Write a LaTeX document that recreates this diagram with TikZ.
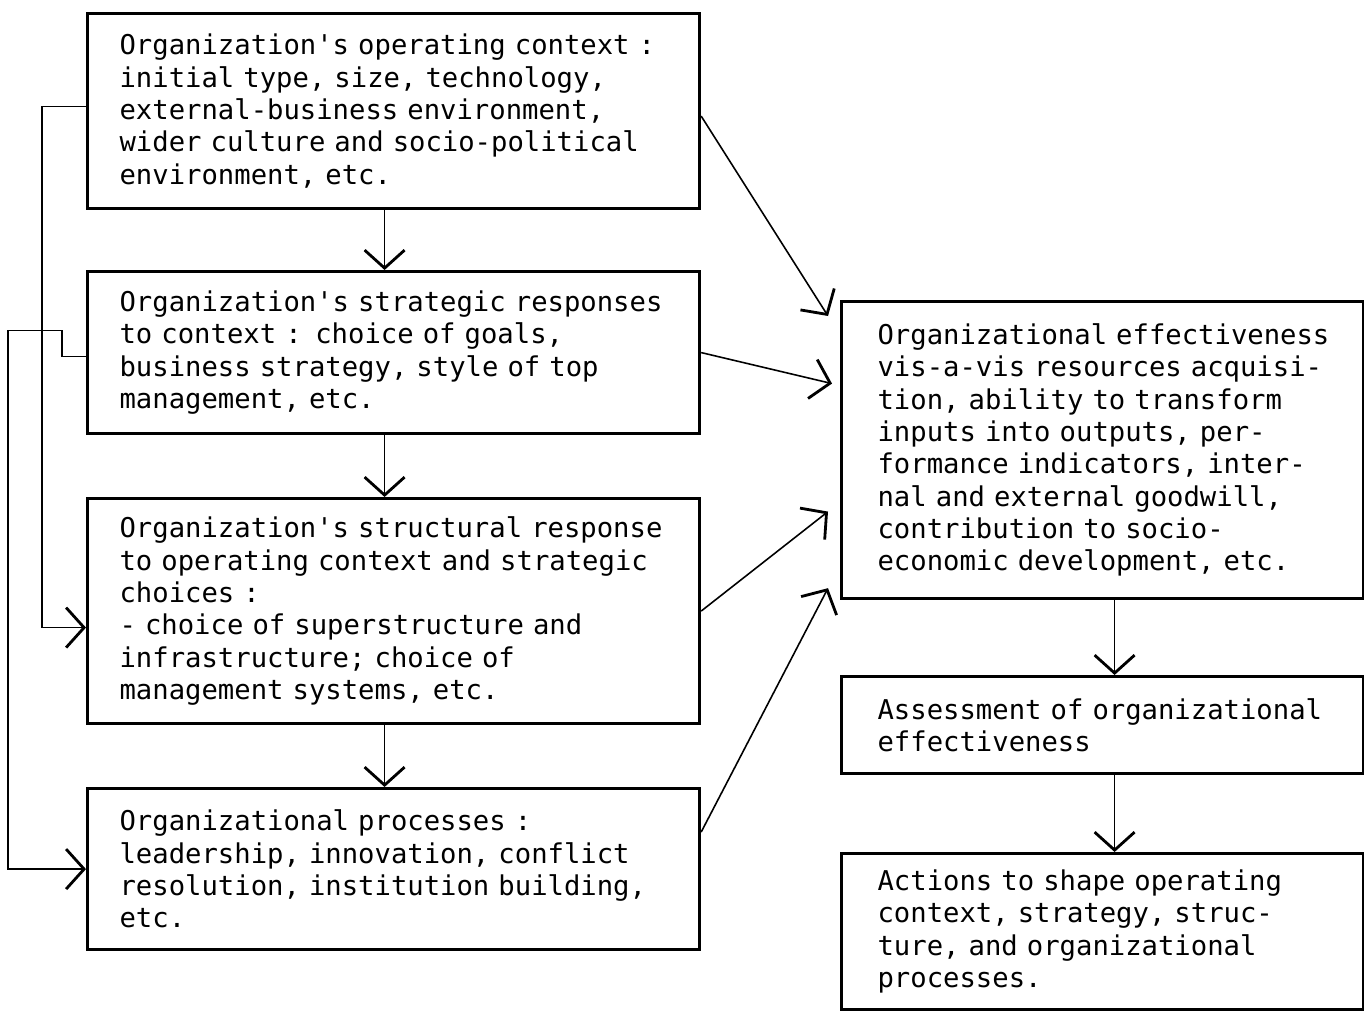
\documentclass[tikz,border=0pt]{standalone}
\usepackage{fontspec}
\setmonofont{DejaVu Sans Mono}
\usetikzlibrary{arrows.meta}

\newcommand\typedtext{\ttfamily\fontsize{15.5}{18.4}\selectfont
  \spaceskip=0.602em\relax\xspaceskip=0.602em\relax}

\begin{document}
\begin{tikzpicture}[
  box/.style={draw, line width=1.8pt, anchor=north west, align=left,
    font=\typedtext},
  leftbox/.style={box, inner xsep=0.32cm, text width=11.6cm,
    execute at begin node={\leftskip=0.32cm\relax}},
  rightbox/.style={box, inner xsep=0.27cm, text width=9.9cm,
    execute at begin node={\leftskip=0.45cm\relax}},
  flow/.style={line width=0.9pt,
    -{Straight Barb[length=0.36cm,width=0.8cm,line width=1.6pt]}}
]

\useasboundingbox (0,0) rectangle (27.28,-20.24);

% Left column
\node[leftbox, minimum height=3.9cm] (ctx) at (1.72,-0.24)
  {Organization's operating context :\\
   initial type, size, technology,\\
   external-business environment,\\
   wider culture and socio-political\\
   environment, etc.};
\node[leftbox, minimum height=3.24cm] (strat) at (1.72,-5.40)
  {Organization's strategic responses\\
   to context : choice of goals,\\
   business strategy, style of top\\
   management, etc.};
\node[leftbox, minimum height=4.5cm] (struct) at (1.72,-9.94)
  {Organization's structural response\\
   to operating context and strategic\\
   choices :\\
   - choice of superstructure and\\
   infrastructure; choice of\\
   management systems, etc.};
\node[leftbox, minimum height=3.22cm] (proc) at (1.72,-15.74)
  {Organizational processes :\\
   leadership, innovation, conflict\\
   resolution, institution building,\\
   etc.};

% Right column
\node[rightbox, minimum height=5.94cm] (eff) at (16.8,-6.0)
  {Organizational effectiveness\\
   vis-a-vis resources acquisi-\\
   tion, ability to transform\\
   inputs into outputs, per-\\
   formance indicators, inter-\\
   nal and external goodwill,\\
   contribution to socio-\\
   economic development, etc.};
\node[rightbox, minimum height=1.94cm] (assess) at (16.8,-13.5)
  {Assessment of organizational\\
   effectiveness};
\node[rightbox, minimum height=3.12cm] (act) at (16.8,-17.04)
  {Actions to shape operating\\
   context, strategy, struc-\\
   ture, and organizational\\
   processes.};

% Down the columns
\draw[flow] ([xshift=-0.18cm]ctx.south) -- ([xshift=-0.18cm]strat.north);
\draw[flow] ([xshift=-0.18cm]strat.south) -- ([xshift=-0.18cm]struct.north);
\draw[flow] ([xshift=-0.18cm]struct.south) -- ([xshift=-0.18cm]proc.north);
\draw[flow] ([xshift=0.24cm]eff.south) -- ([xshift=0.24cm]assess.north);
\draw[flow] ([xshift=0.24cm]assess.south) -- ([xshift=0.24cm]act.north);

% Into effectiveness
\draw[flow] ([yshift=-0.1cm]ctx.east) -- ([xshift=-0.24cm,yshift=-0.32cm]eff.north west);
\draw[flow] (strat.east) -- ([xshift=-0.16cm,yshift=1.33cm]eff.west);
\draw[flow] (struct.east) -- ([xshift=-0.24cm,yshift=-1.23cm]eff.west);
\draw[flow] ([yshift=0.74cm]proc.east) -- ([xshift=-0.24cm,yshift=0.24cm]eff.south west);

% Feedback on the left
\draw[flow] ([yshift=0.09cm]ctx.west) -- ++(-0.88,0) |- ([yshift=-0.33cm]struct.west);
\draw[flow] ([yshift=-0.08cm]strat.west) -- ++(-0.48,0) -- ++(0,0.52) -- ++(-1.08,0)
  |- (proc.west);

\end{tikzpicture}
\end{document}
